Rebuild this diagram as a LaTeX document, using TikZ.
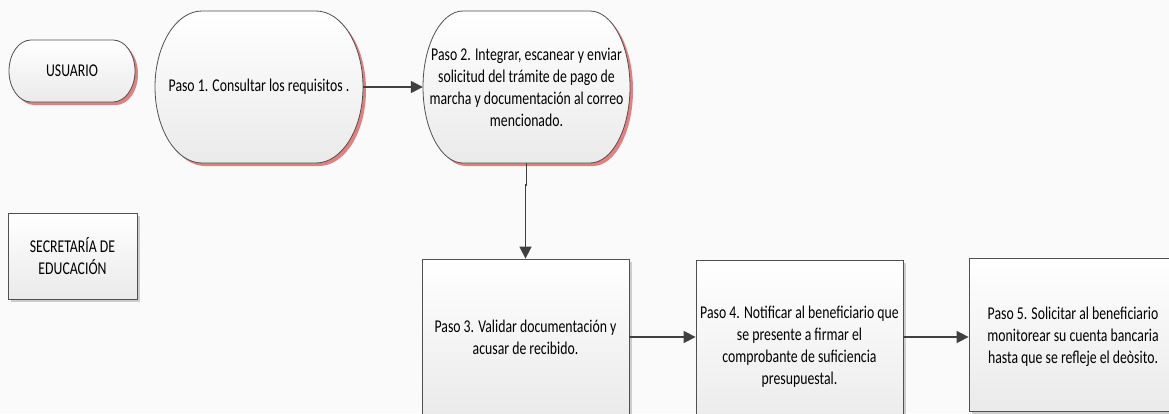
\documentclass[tikz,border=0pt]{standalone}
\usepackage{fontspec}
\setmainfont[FakeStretch=0.765]{Carlito}
\usetikzlibrary{arrows.meta,calc,shadows}
\definecolor{bg}{HTML}{FAFAFA}
\definecolor{edge}{HTML}{505050}
\definecolor{arr}{HTML}{404040}
\definecolor{redsh}{HTML}{E08080}
\definecolor{graysh}{HTML}{CDCDCD}
\definecolor{fillbot}{HTML}{EAEAEA}
\newcommand\stadxy[5]{(#1-#3+#5,#2+#4) -- (#1+#3-#5,#2+#4) arc[start angle=90,end angle=-90,x radius=#5,y radius=#4] -- (#1-#3+#5,#2-#4) arc[start angle=270,end angle=90,x radius=#5,y radius=#4] -- cycle}
\tikzset{
  txt/.style={font=\fontsize{18}{22}\selectfont, align=center, text=black, inner sep=0pt},
  stadfill/.style={top color=white, bottom color=fillbot, draw=edge, line width=0.8pt},
  stadshadow/.style={fill=redsh},
  rectbox/.style={txt, draw=edge, line width=0.8pt, top color=white, bottom color=fillbot,
    drop shadow={shadow xshift=3pt, shadow yshift=-3pt, fill=graysh, opacity=1}},
  arrowline/.style={draw=arr, line width=1.5pt, -{Triangle[length=12pt,width=12pt]}}
}
\begin{document}
\begin{tikzpicture}[x=1pt,y=1pt]
\useasboundingbox (0,0) rectangle (1169,-413);
\clip (0,0) rectangle (1169,-413);
\fill[bg] (0,0) rectangle (1169,-413);

% stadium shapes: shadows then bodies
\fill[stadshadow] \stadxy{75}{-74}{63}{31}{22};
\path[stadfill] \stadxy{72}{-71}{63}{31}{22};
\fill[stadshadow] \stadxy{262}{-90}{104}{76}{47};
\path[stadfill] \stadxy{259}{-87}{104}{76}{47};
\fill[stadshadow] \stadxy{529.5}{-90}{103.5}{76}{40};
\path[stadfill] \stadxy{526.5}{-87}{103.5}{76}{40};

\node[txt, minimum width=126, minimum height=62] (u) at (72,-71) {USUARIO};
\node[txt, minimum width=208, minimum height=152] (p1) at (259,-87) {Paso 1. Consultar los requisitos .};
\node[txt, minimum width=207, minimum height=152] (p2) at (526.5,-87) {Paso 2. Integrar, escanear y enviar\\ solicitud del trámite de pago de\\ marcha y documentación al correo\\ mencionado.};

% rectangular boxes
\node[rectbox, minimum width=129, minimum height=86] (se) at (72.5,-256) {SECRETARÍA DE\\ EDUCACIÓN};
\node[rectbox, minimum width=207, minimum height=157] (p3) at (525.5,-337.5) {Paso 3. Validar documentación y\\ acusar de recibido.};
\node[rectbox, minimum width=207, minimum height=173] (p4) at (799.5,-346.5) {Paso 4. Notificar al beneficiario que\\ se presente a firmar el\\ comprobante de suficiencia\\ presupuestal.};
\node[rectbox, minimum width=207, minimum height=153] (p5) at (1072.5,-334.5) {};
\node[txt] (t5) at (1073,-337) {Paso 5. Solicitar al beneficiario\\ monitorear su cuenta bancaria\\ hasta que se refleje el deòsito.};

% connectors
\coordinate (row) at (0,-337);
\draw[arrowline] (p1.east) -- (p2.west);
\draw[arrowline] (p2.south) -- ++(0,-22) -| (p3.north);
\draw[arrowline] (p3.east |- row) -- (p4.west |- row);
\draw[arrowline] (p4.east |- row) -- (p5.west |- row);
\end{tikzpicture}
\end{document}
